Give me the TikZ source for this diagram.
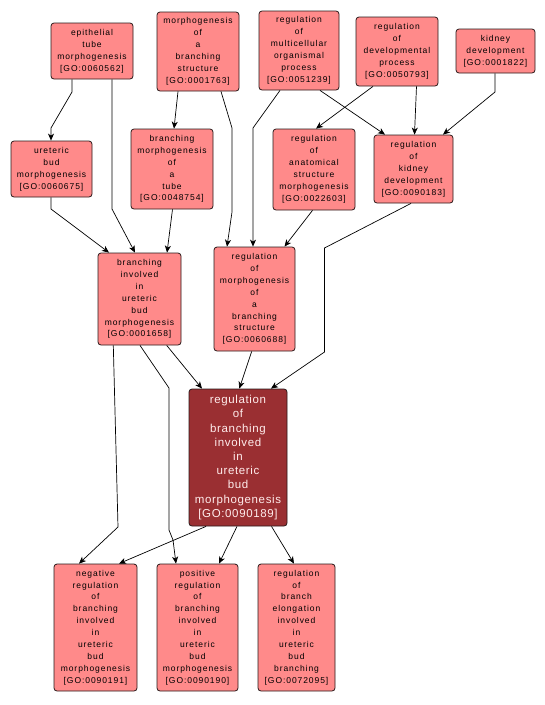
\documentclass[tikz,border=0pt]{standalone}
\usepackage{fontspec}
\setmainfont{Liberation Sans}
\newfontfamily\pinkfont[LetterSpace=11]{Liberation Sans}
\newfontfamily\darkfont[LetterSpace=5.5]{Liberation Sans}
\usetikzlibrary{arrows.meta}
\definecolor{goPink}{HTML}{FF8A8A}
\definecolor{goDark}{HTML}{9A2F32}
\definecolor{goText}{HTML}{FFECEC}
\definecolor{goLine}{HTML}{2A1A1A}
\begin{document}
\begin{tikzpicture}[x=1pt,y=-1pt,
  go/.style={draw=goLine, line width=0.8pt, rounded corners=3pt, fill=goPink,
    inner sep=0pt, align=center, text=black,
    font=\pinkfont\fontsize{8.5}{11.9}\selectfont},
  gomain/.style={go, fill=goDark, text=goText,
    font=\darkfont\fontsize{11.5}{14.2}\selectfont},
  edge/.style={draw=black, line width=0.7pt, -{Stealth[length=7pt,width=6pt,inset=2pt]}}]
\fill[white] (0,0) rectangle (545,705);
\useasboundingbox (0,0) rectangle (545,705);

% row 1
\node[go, minimum width=82pt, minimum height=56pt] (epi) at (92,51) {epithelial\\tube\\morphogenesis\\{[}GO:0060562{]}};
\node[go, minimum width=82pt, minimum height=79pt] (mbs) at (198,51.5) {morphogenesis\\of\\a\\branching\\structure\\{[}GO:0001763{]}};
\node[go, minimum width=80pt, minimum height=79pt] (rmop) at (299,50.5) {regulation\\of\\multicellular\\organismal\\process\\{[}GO:0051239{]}};
\node[go, minimum width=82pt, minimum height=69pt] (rdp) at (397,51.5) {regulation\\of\\developmental\\process\\{[}GO:0050793{]}};
\node[go, minimum width=79pt, minimum height=44pt] (kd) at (495.5,51) {kidney\\development\\{[}GO:0001822{]}};
% row 2
\node[go, minimum width=81pt, minimum height=56pt] (ubm) at (51.5,169) {ureteric\\bud\\morphogenesis\\{[}GO:0060675{]}};
\node[go, minimum width=82pt, minimum height=80pt] (bmt) at (172,169) {branching\\morphogenesis\\of\\a\\tube\\{[}GO:0048754{]}};
\node[go, minimum width=82pt, minimum height=81pt] (rasm) at (314,169.5) {regulation\\of\\anatomical\\structure\\morphogenesis\\{[}GO:0022603{]}};
\node[go, minimum width=79pt, minimum height=68pt] (rkd) at (413.5,169) {regulation\\of\\kidney\\development\\{[}GO:0090183{]}};
% row 3
\node[go, minimum width=83pt, minimum height=92pt] (bium) at (139.5,299) {branching\\involved\\in\\ureteric\\bud\\morphogenesis\\{[}GO:0001658{]}};
\node[go, minimum width=81pt, minimum height=104pt] (rmbs) at (254.5,299) {regulation\\of\\morphogenesis\\of\\a\\branching\\structure\\{[}GO:0060688{]}};
% main
\node[gomain, minimum width=98pt, minimum height=137pt] (main) at (238,457.5) {regulation\\of\\branching\\involved\\in\\ureteric\\bud\\morphogenesis\\{[}GO:0090189{]}};
% bottom
\node[go, minimum width=83pt, minimum height=127pt] (neg) at (95.5,627.5) {negative\\regulation\\of\\branching\\involved\\in\\ureteric\\bud\\morphogenesis\\{[}GO:0090191{]}};
\node[go, minimum width=81pt, minimum height=127pt] (pos) at (197.5,627.5) {positive\\regulation\\of\\branching\\involved\\in\\ureteric\\bud\\morphogenesis\\{[}GO:0090190{]}};
\node[go, minimum width=77pt, minimum height=127pt] (rbe) at (296.5,627.5) {regulation\\of\\branch\\elongation\\involved\\in\\ureteric\\bud\\branching\\{[}GO:0072095{]}};

% edges
\draw[edge] (epi.south -| 72,0) -- (72,92) -- (51,128) -- (ubm.north -| 51,0);
\draw[edge] (epi.south -| 112,0) -- (112,209) -- (bium.north -| 135,0);
\draw[edge] (ubm.south -| 51,0) -- (51,209) -- (bium.north -| 109,0);
\draw[edge] (bmt.south -| 172.5,0) -- (bium.north -| 167,0);
\draw[edge] (mbs.south -| 178,0) -- (bmt.north -| 174,0);
\draw[edge] (mbs.south -| 221,0) -- (232,128) -- (232,212) -- (rmbs.north -| 227,0);
\draw[edge] (rmop.south -| 280,0) -- (253,128) -- (rmbs.north -| 253,0);
\draw[edge] (rmop.south -| 320,0) -- (rkd.north -| 385,0);
\draw[edge] (rdp.south -| 373,0) -- (rasm.north -| 316,0);
\draw[edge] (rdp.south -| 416.5,0) -- (rkd.north -| 414.5,0);
\draw[edge] (kd.south -| 495,0) -- (495,92) -- (rkd.north -| 443,0);
\draw[edge] (rasm.south -| 312.5,0) -- (rmbs.north -| 284.5,0);
\draw[edge] (rkd.south -| 411,0) -- (324.5,248) -- (324.5,352) -- (main.north -| 271,0);
\draw[edge] (bium.south -| 166.7,0) -- (main.north -| 202,0);
\draw[edge] (rmbs.south -| 251.7,0) -- (main.north -| 239.3,0);
\draw[edge] (bium.south -| 113.3,0) -- (118,527) -- (neg.north -| 79,0);
\draw[edge] (bium.south -| 140,0) -- (169,388) -- (169,530) -- (173,540) -- (pos.north -| 176,0);
\draw[edge] (main.south -| 206,0) -- (neg.north -| 119,0);
\draw[edge] (main.south -| 237,0) -- (pos.north -| 219,0);
\draw[edge] (main.south -| 271.5,0) -- (rbe.north -| 294,0);
\end{tikzpicture}
\end{document}
